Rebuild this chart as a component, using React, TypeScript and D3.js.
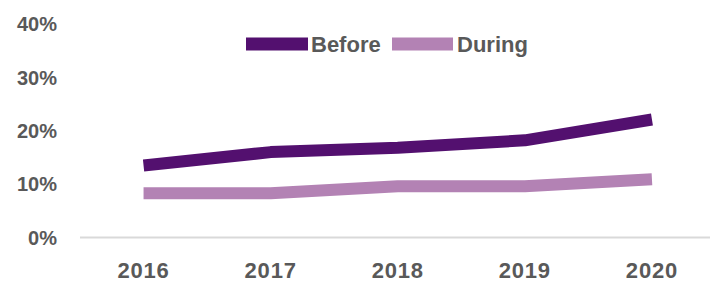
import React from "react";
import * as d3 from "d3";

const years = ["2016", "2017", "2018", "2019", "2020"];
const before = [13.5, 16.0, 16.8, 18.2, 22.1];
const during = [8.3, 8.3, 9.6, 9.6, 10.9];
const yTicks = [0, 10, 20, 30, 40];
const seriesNames = ["Before", "During"];
const seriesColors = ["#53106f", "#b382b4"];

const W = 710;
const H = 283;
const FONT = "'Liberation Sans', Arial, sans-serif";
const TEXT = "#595959";

export default function App() {
  const x = d3.scaleBand<string>().domain(years).range([80, 80 + 5 * 127.1]);
  const y = d3.scaleLinear().domain([0, 40]).range([237.5, 24]);
  const line = d3
    .line<number>()
    .x((_, i) => (x(years[i]) as number) + x.bandwidth() / 2)
    .y((d) => y(d));
  const series = [before, during];

  return (
    <svg
      width={W}
      height={H}
      style={{ position: "absolute", left: 0, top: 0, background: "#fff" }}
    >
      {/* y axis labels */}
      {yTicks.map((t) => (
        <text
          key={t}
          x={57}
          y={y(t)}
          dy="0.36em"
          textAnchor="end"
          fontFamily={FONT}
          fontWeight="bold"
          fontSize={20}
          fill={TEXT}
        >
          {t}%
        </text>
      ))}
      {/* baseline */}
      <line x1={80} x2={W} y1={y(0)} y2={y(0)} stroke="#d9d9d9" strokeWidth={2} />
      {/* x labels */}
      {years.map((yr) => (
        <text
          key={yr}
          x={(x(yr) as number) + x.bandwidth() / 2}
          y={278}
          textAnchor="middle"
          fontFamily={FONT}
          fontWeight="bold"
          fontSize={22}
          letterSpacing={0.8}
          fill={TEXT}
        >
          {yr}
        </text>
      ))}
      {/* lines */}
      {series.map((s, i) => (
        <path
          key={i}
          d={line(s) as string}
          fill="none"
          stroke={seriesColors[i]}
          strokeWidth={12}
          strokeLinejoin="round"
        />
      ))}
      {/* legend */}
      <g>
        <line x1={246} x2={308} y1={44} y2={44} stroke={seriesColors[0]} strokeWidth={13} />
        <text x={311} y={52} fontFamily={FONT} fontWeight="bold" fontSize={22} fill={TEXT}>
          {seriesNames[0]}
        </text>
        <line x1={392} x2={453} y1={44} y2={44} stroke={seriesColors[1]} strokeWidth={13} />
        <text x={457} y={52} fontFamily={FONT} fontWeight="bold" fontSize={22} fill={TEXT}>
          {seriesNames[1]}
        </text>
      </g>
    </svg>
  );
}
